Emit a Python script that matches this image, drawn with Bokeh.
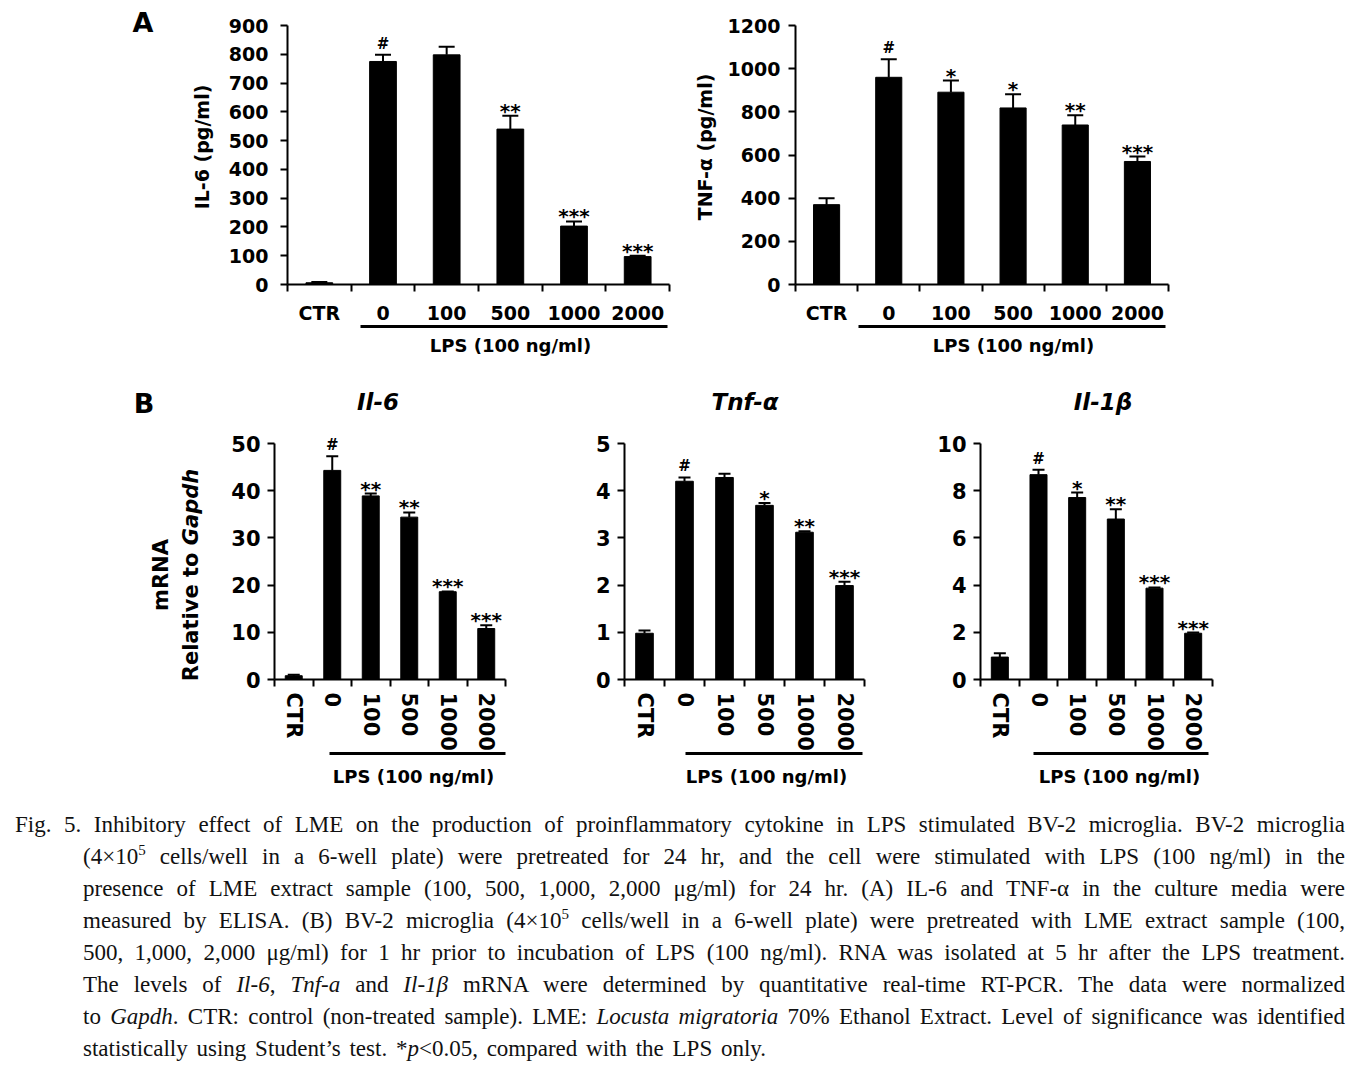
from bokeh.plotting import figure
from bokeh.models import (Range1d, FixedTicker, SingleIntervalTicker, LinearAxis,
                          Whisker, TeeHead, ColumnDataSource, LabelSet, Div, Title)
from bokeh.layouts import row, column
from bokeh.embed import file_html
from bokeh.resources import INLINE
from bokeh.core.properties import value, field

FONT = "DejaVu Sans"

# ---------------- data ----------------
categories = ["CTR", "0", "100", "500", "1000", "2000"]
group_label = "LPS (100 ng/ml)"

il6_protein = [6, 775, 798, 540, 203, 97]
il6_protein_err = [3, 23, 28, 46, 16, 3]
il6_protein_sig = ["", "#", "", "**", "***", "***"]

tnf_protein = [370, 960, 891, 818, 739, 570]
tnf_protein_err = [30, 84, 54, 63, 45, 23]
tnf_protein_sig = ["", "#", "*", "*", "**", "***"]

il6_mrna = [0.8, 44.3, 38.9, 34.4, 18.6, 10.8]
il6_mrna_err = [0.2, 3.0, 0.5, 1.0, 0.05, 0.7]
il6_mrna_sig = ["", "#", "**", "**", "***", "***"]

tnf_mrna = [0.98, 4.2, 4.28, 3.69, 3.12, 1.99]
tnf_mrna_err = [0.06, 0.08, 0.08, 0.05, 0.02, 0.08]
tnf_mrna_sig = ["", "#", "", "*", "**", "***"]

il1b_mrna = [0.95, 8.68, 7.71, 6.8, 3.87, 1.96]
il1b_mrna_err = [0.16, 0.21, 0.21, 0.41, 0.03, 0.03]
il1b_mrna_sig = ["", "#", "*", "**", "***", "***"]

panel_letters = ["A", "B"]
gene_titles = ["Il-6", "Tnf-α", "Il-1β"]
mrna_ylabel = ["mRNA", "Relative to <i>Gapdh</i>"]

SUP = '<sup style="font-size:15px;line-height:0;vertical-align:0;position:relative;top:-9px;">5</sup>'
caption_lines = [
    "Fig. 5. Inhibitory effect of LME on the production of proinflammatory cytokine in LPS stimulated BV-2 microglia. BV-2 microglia",
    f"(4×10{SUP} cells/well in a 6-well plate) were pretreated for 24 hr, and the cell were stimulated with LPS (100 ng/ml) in the",
    "presence of LME extract sample (100, 500, 1,000, 2,000 μg/ml) for 24 hr. (A) IL-6 and TNF-α in the culture media were",
    f"measured by ELISA. (B) BV-2 microglia (4×10{SUP} cells/well in a 6-well plate) were pretreated with LME extract sample (100,",
    "500, 1,000, 2,000 μg/ml) for 1 hr prior to incubation of LPS (100 ng/ml). RNA was isolated at 5 hr after the LPS treatment.",
    "The levels of <i>Il-6</i>, <i>Tnf-a</i> and <i>Il-1β</i> mRNA were determined by quantitative real-time RT-PCR. The data were normalized",
    "to <i>Gapdh</i>. CTR: control (non-treated sample). LME: <i>Locusta migratoria</i> 70% Ethanol Extract. Level of significance was identified",
    "statistically using Student’s test. *<i>p</i>&lt;0.05, compared with the LPS only.",
]

SIG_SIZE = {"#": "15px", "*": "20px"}
SIG_LIFT = {"#": 11, "*": 5}
LPS_EM = 8.97  # approx. width of the group label in em (DejaVu Sans Bold)


def make_panel(vals, errs, sig, *, width, height, left, right, top, bottom, pad,
               data_h, y_max, y_step, tick_fs, bar_w, head, x_standoff, vertical,
               lps_bounds, lps_center, lps_standoff, y_standoff,
               ylabel=None, ylabel_standoff=0):
    n = len(categories)
    xs = list(range(1, n + 1))
    y_end = y_max * (1 + pad / data_h)
    p = figure(width=width, height=height, x_range=Range1d(0.5, n + 0.5),
               y_range=Range1d(0, y_end), output_backend="svg", toolbar_location=None,
               min_border_left=left, min_border_right=right,
               min_border_top=top - pad, min_border_bottom=bottom)
    p.outline_line_color = None
    p.xgrid.visible = False
    p.ygrid.visible = False

    upper = [v + e for v, e in zip(vals, errs)]
    key = [s[:1] if s else "#" for s in sig]
    src = ColumnDataSource(dict(x=xs, val=vals, upper=upper, sig=sig,
                                fs=[SIG_SIZE[k] for k in key],
                                lift=[SIG_LIFT[k] for k in key]))
    p.vbar(x="x", top="val", width=bar_w, source=src, fill_color="black", line_color="black")
    p.add_layout(Whisker(source=src, base="x", upper="upper", lower="val",
                         line_color="black", line_width=2,
                         upper_head=TeeHead(size=head, line_color="black", line_width=2),
                         lower_head=None))
    p.add_layout(LabelSet(x="x", y="upper", text="sig", source=src, text_align="center",
                          text_baseline="middle", text_font=value(FONT), text_font_style="bold",
                          text_font_size=field("fs"), y_offset=field("lift"), text_color="black"))

    xa = p.xaxis[0]
    xa.ticker = FixedTicker(ticks=xs, minor_ticks=[x - 0.5 for x in xs] + [n + 0.5])
    xa.major_label_overrides = dict(zip(xs, categories))
    xa.major_tick_out = 0
    xa.major_tick_in = 0
    xa.minor_tick_out = 7
    xa.minor_tick_in = 0
    xa.minor_tick_line_width = 2
    xa.minor_tick_line_color = "black"
    xa.axis_line_width = 2
    xa.axis_line_color = "black"
    xa.major_label_text_font = FONT
    xa.major_label_text_font_style = "bold"
    xa.major_label_text_font_size = tick_fs
    xa.major_label_text_color = "black"
    xa.major_label_standoff = x_standoff
    if vertical:
        xa.major_label_orientation = "vertical"

    ya = p.yaxis[0]
    ya.ticker = SingleIntervalTicker(interval=y_step, num_minor_ticks=0)
    ya.bounds = (0, y_max)
    ya.major_tick_out = 7
    ya.major_tick_in = 0
    ya.minor_tick_out = 0
    ya.minor_tick_in = 0
    ya.major_tick_line_width = 2
    ya.major_tick_line_color = "black"
    ya.axis_line_width = 2
    ya.axis_line_color = "black"
    ya.major_label_text_font = FONT
    ya.major_label_text_font_style = "bold"
    ya.major_label_text_font_size = tick_fs
    ya.major_label_text_color = "black"
    ya.major_label_standoff = y_standoff
    if ylabel:
        ya.axis_label = ylabel
        ya.axis_label_text_font = FONT
        ya.axis_label_text_font_style = "bold"
        ya.axis_label_text_font_size = "19px"
        ya.axis_label_text_color = "black"
        ya.axis_label_standoff = ylabel_standoff

    # underline of the LPS-treated group
    lps = LinearAxis(ticker=FixedTicker(ticks=[]), bounds=lps_bounds,
                     axis_line_width=3, axis_line_color="black",
                     major_tick_out=0, major_tick_in=0, minor_tick_out=0, minor_tick_in=0,
                     major_label_standoff=0)
    p.add_layout(lps, "below")
    offset = lps_center - left - LPS_EM * 18 / 2
    p.add_layout(Title(text=group_label, align="left", offset=offset, vertical_align="top",
                       standoff=lps_standoff, text_font=FONT, text_font_style="bold",
                       text_font_size="18px", text_color="black"), "below")
    return p


def abs_text(x, y, html, size, style="bold"):
    it = "italic" if "italic" in style else "normal"
    return (f'<span style="position:absolute;left:{x}px;top:{y}px;transform:translate(-50%,-50%);'
            f'font-family:\'DejaVu Sans\';font-weight:bold;font-style:{it};font-size:{size}px;'
            f'line-height:1;white-space:nowrap;color:#000;">{html}</span>')


# ---------------- panel A ----------------
div_a = Div(width=180, height=378, margin=0,
            text='<div style="position:relative;width:180px;height:378px;">'
                 + abs_text(143, 22, panel_letters[0], 27) + '</div>')

pA1 = make_panel(il6_protein, il6_protein_err, il6_protein_sig,
                 width=510, height=378, left=107, right=21, top=25, bottom=94, pad=16,
                 data_h=259, y_max=900, y_step=100, tick_fs="19px", bar_w=0.42, head=16,
                 x_standoff=10, vertical=False, lps_bounds=(1.65, 6.47), lps_center=330,
                 lps_standoff=17, y_standoff=12, ylabel="IL-6 (pg/ml)", ylabel_standoff=13)

pA2 = make_panel(tnf_protein, tnf_protein_err, tnf_protein_sig,
                 width=676, height=378, left=105, right=198, top=25, bottom=94, pad=16,
                 data_h=259, y_max=1200, y_step=200, tick_fs="19px", bar_w=0.42, head=16,
                 x_standoff=10, vertical=False, lps_bounds=(1.51, 6.45), lps_center=323,
                 lps_standoff=17, y_standoff=8, ylabel="TNF-α (pg/ml)", ylabel_standoff=9)

# ---------------- panel B ----------------
header_b = Div(width=1366, height=45, margin=0,
               text='<div style="position:relative;width:1366px;height:45px;">'
                    + abs_text(144, 25, panel_letters[1], 27)
                    + abs_text(378, 24, gene_titles[0], 23, "bold italic")
                    + abs_text(745, 24, gene_titles[1], 23, "bold italic")
                    + abs_text(1103, 24, gene_titles[2], 23, "bold italic")
                    + '</div>')

ylab_html = "<br>".join(mrna_ylabel)
div_ylab = Div(width=215, height=377, margin=0,
               text='<div style="position:relative;width:215px;height:377px;">'
                    '<div style="position:absolute;left:176px;top:152px;'
                    'transform:translate(-50%,-50%) rotate(-90deg);white-space:nowrap;'
                    'font-family:\'DejaVu Sans\';font-weight:bold;font-size:21px;'
                    f'line-height:30px;text-align:center;color:#000;">{ylab_html}</div></div>')

pB1 = make_panel(il6_mrna, il6_mrna_err, il6_mrna_sig,
                 width=325, height=377, left=59, right=35, top=20, bottom=121, pad=14,
                 data_h=236, y_max=50, y_step=10, tick_fs="21px", bar_w=0.44, head=12,
                 x_standoff=6, vertical=True, lps_bounds=(1.92, 6.5), lps_center=198,
                 lps_standoff=24, y_standoff=7)

pB2 = make_panel(tnf_mrna, tnf_mrna_err, tnf_mrna_sig,
                 width=360, height=377, left=84, right=36, top=20, bottom=121, pad=14,
                 data_h=236, y_max=5, y_step=1, tick_fs="21px", bar_w=0.44, head=12,
                 x_standoff=6, vertical=True, lps_bounds=(2.03, 6.45), lps_center=226,
                 lps_standoff=24, y_standoff=7)

pB3 = make_panel(il1b_mrna, il1b_mrna_err, il1b_mrna_sig,
                 width=466, height=377, left=80, right=154, top=20, bottom=121, pad=14,
                 data_h=236, y_max=10, y_step=2, tick_fs="21px", bar_w=0.44, head=12,
                 x_standoff=6, vertical=True, lps_bounds=(1.87, 6.4), lps_center=219,
                 lps_standoff=24, y_standoff=7)

# ---------------- caption ----------------
parts = []
for i, t in enumerate(caption_lines):
    last = i == len(caption_lines) - 1
    ml = 15 if i == 0 else 83
    w = 1330 if i == 0 else 1262
    align = "left" if last else "justify"
    extra = "word-spacing:3px;" if last else ""
    parts.append(
        f'<div style="margin-left:{ml}px;width:{w}px;height:32px;line-height:32px;'
        f'white-space:nowrap;text-align:{align};text-align-last:{align};{extra}">{t}</div>')
html = ('<div style="padding-top:9px;font-family:\'Liberation Serif\',serif;font-size:23px;'
        'color:#111;">' + "".join(parts) + '</div>')
caption = Div(text=html, width=1366, height=265, margin=0)

layout = column(row(div_a, pA1, pA2), header_b, row(div_ylab, pB1, pB2, pB3), caption)

open("out.html", "w").write(file_html(layout, INLINE))
